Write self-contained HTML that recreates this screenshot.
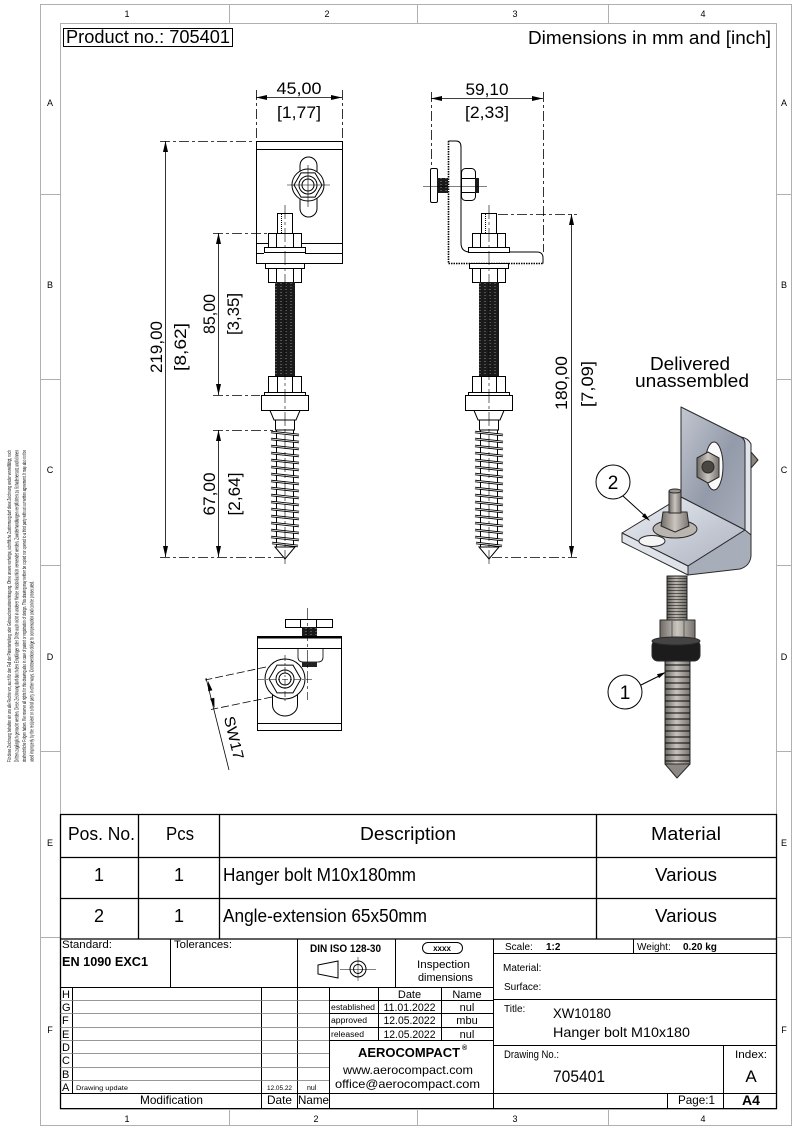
<!DOCTYPE html>
<html><head><meta charset="utf-8"><style>
html,body{margin:0;padding:0;background:#fff}
svg{display:block}
text{font-family:"Liberation Sans",sans-serif;fill:#000}
</style></head><body>
<svg width="800" height="1132" viewBox="0 0 800 1132" xmlns="http://www.w3.org/2000/svg">
<defs>
<pattern id="rod" patternUnits="userSpaceOnUse" width="5" height="3"><rect width="5" height="3" fill="#1a1a1a"/><path d="M0 1.5h2" stroke="#8a8a8a" stroke-width="0.5"/></pattern>
<pattern id="th3" patternUnits="userSpaceOnUse" width="40" height="3"><rect width="40" height="3" fill="#b8b3ad"/><rect y="2" width="40" height="1" fill="#5d5853"/></pattern>
<pattern id="th6" patternUnits="userSpaceOnUse" width="40" height="6"><rect width="40" height="6" fill="#c7c2bc"/><rect y="4" width="40" height="2" fill="#67625c"/></pattern>
<linearGradient id="gm" x1="0" x2="1" y1="0" y2="0"><stop offset="0" stop-color="#6e6964"/><stop offset="0.5" stop-color="#cbc6c0"/><stop offset="1" stop-color="#77726d"/></linearGradient>
<linearGradient id="sh" x1="0" x2="1" y1="0" y2="0"><stop offset="0" stop-color="#000" stop-opacity="0.45"/><stop offset="0.45" stop-color="#000" stop-opacity="0"/><stop offset="1" stop-color="#000" stop-opacity="0.4"/></linearGradient>
<linearGradient id="gv" x1="0" y1="0" x2="1" y2="1"><stop offset="0" stop-color="#c3c7d1"/><stop offset="0.55" stop-color="#939aa9"/><stop offset="1" stop-color="#a9aebb"/></linearGradient>
<linearGradient id="gh" x1="0" y1="0" x2="1" y2="1"><stop offset="0" stop-color="#eef0f4"/><stop offset="0.6" stop-color="#c3c8d3"/><stop offset="1" stop-color="#aeb3c0"/></linearGradient>
</defs>
<rect width="800" height="1132" fill="#fff"/>

<!-- FRAME -->
<g stroke="#b0b0b0" fill="none" stroke-width="1">
<rect x="40.5" y="4.5" width="751" height="1121"/>
<rect x="60.5" y="23.5" width="716" height="1086"/>
<path d="M229.5 4V23M417.5 4V23M608.5 4V23M229.5 1110V1126M417.5 1110V1126M608.5 1110V1126M40 194.5H60M40 379.5H60M40 565.5H60M40 751.5H60M40 937.5H60M777 194.5H791M777 379.5H791M777 565.5H791M777 751.5H791M777 937.5H791"/>
</g>
<g font-size="9" text-anchor="middle" style="fill:#333">
<text x="127" y="17">1</text><text x="327" y="17">2</text><text x="515" y="17">3</text><text x="703" y="17">4</text>
<text x="127" y="1122">1</text><text x="316" y="1122">2</text><text x="515" y="1122">3</text><text x="703" y="1122">4</text>
<text x="50" y="106">A</text><text x="50" y="288">B</text><text x="50" y="473">C</text><text x="50" y="660">D</text><text x="50" y="846">E</text><text x="50" y="1033">F</text>
<text x="784" y="106">A</text><text x="784" y="288">B</text><text x="784" y="473">C</text><text x="784" y="660">D</text><text x="784" y="846">E</text><text x="784" y="1033">F</text>
</g>

<!-- left margin legal text -->
<g font-size="5.5" style="fill:#333" lengthAdjust="spacingAndGlyphs">
<text transform="translate(11,762) rotate(-90)" textLength="312" lengthAdjust="spacingAndGlyphs">Für diese Zeichnung behalten wir uns alle Rechte vor, auch für den Fall der Patenterteilung oder Gebrauchsmustereintragung. Ohne unsere vorherige, schriftliche Zustimmung darf diese Zeichnung weder vervielfältigt, noch</text>
<text transform="translate(18.5,762) rotate(-90)" textLength="312" lengthAdjust="spacingAndGlyphs">Dritten zugänglich gemacht werden. Diese Zeichnung darf durch den Empfänger oder Dritte auch nicht in anderer Weise missbräuchlich verwendet werden. Zuwiderhandlungen verpflichten zu Schadenersatz und können</text>
<text transform="translate(26,762) rotate(-90)" textLength="312" lengthAdjust="spacingAndGlyphs">strafrechtliche Folgen haben. We reserve all rights for this drawing also in case of patent or registration of design. This drawing may neither be copied nor opened to a third party without our written agreement. It may also not be</text>
<text transform="translate(33.5,762) rotate(-90)" textLength="181" lengthAdjust="spacingAndGlyphs">used improperly by the recipient or a third party in other ways. Contraventions oblige to compensation and can be prosecuted.</text>
</g>

<!-- HEADER -->
<rect x="63.5" y="28.5" width="169" height="18" fill="none" stroke="#000"/>
<text x="66" y="43" font-size="18" textLength="164" lengthAdjust="spacingAndGlyphs">Product no.: 705401</text>
<text x="528" y="44" font-size="18" textLength="243" lengthAdjust="spacingAndGlyphs">Dimensions in mm and [inch]</text>

<!-- FRONT VIEW plate -->
<g stroke="#000" stroke-width="1" fill="none">
<rect x="256.5" y="141.5" width="86" height="122" fill="#fff"/>
<path d="M256 149.5H342M256 243.5H342M256 253.5H264M305 253.5H342"/>
<rect x="300" y="157" width="17" height="60" rx="8.5" fill="#fff"/>
<circle cx="308" cy="185" r="16" fill="#fff"/>
<polygon points="322,185 315,197.1 301,197.1 294,185 301,172.9 315,172.9"/>
<circle cx="308" cy="185" r="9"/>
<circle cx="308" cy="185" r="6"/>
<path d="M287 185H330M308 165V207" stroke-width="0.6"/>
</g>

<!-- BOLT assembly (front) -->
<g id="bolt" stroke="#000" stroke-width="1" fill="#fff">
<rect x="277.5" y="213.5" width="15" height="20"/>
<path d="M281.5 214V233" stroke-dasharray="1 1" fill="none"/>
<rect x="268.5" y="233.5" width="33" height="14"/>
<path d="M276.5 234V247M293.5 234V247" fill="none"/>
<rect x="264.5" y="247.5" width="41" height="5"/>
<rect x="265.5" y="263.5" width="39" height="5"/>
<rect x="268.5" y="268.5" width="33" height="14"/>
<path d="M276.5 269V282M293.5 269V282" fill="none"/>
<rect x="275" y="282" width="20" height="94" fill="url(#rod)" stroke="none"/>
<rect x="268.5" y="376.5" width="33" height="16"/>
<path d="M277.5 377V392M292.5 377V392" fill="none"/>
<rect x="264.5" y="392.5" width="41" height="3"/>
<rect x="261.5" y="395.5" width="47" height="15"/>
<polygon points="270,410.5 300,410.5 296,420 274,420"/>
<rect x="275.5" y="420" width="19" height="10"/>
<path d="M276.5 430V547M293.5 430V547" fill="none"/>
<path d="M271 432l28 3M271 439l28 3M271 446l28 3M271 453l28 3M271 460l28 3M271 467l28 3M271 474l28 3M271 481l28 3M271 488l28 3M271 495l28 3M271 502l28 3M271 509l28 3M271 516l28 3M271 523l28 3M271 530l28 3M271 537l28 3M272 543l26 3" stroke-width="2.4" fill="none"/>
<path d="M271 432l28 3M271 439l28 3M271 446l28 3M271 453l28 3M271 460l28 3M271 467l28 3M271 474l28 3M271 481l28 3M271 488l28 3M271 495l28 3M271 502l28 3M271 509l28 3M271 516l28 3M271 523l28 3M271 530l28 3M271 537l28 3M272 543l26 3" stroke="#fff" stroke-width="0.7" fill="none"/>
<polygon points="275,547 295,547 285,559"/>
<path d="M285 205V566" stroke-width="0.6" stroke-dasharray="14 3 3 3" fill="none"/>
</g>

<!-- SIDE VIEW bracket -->
<path d="M448.5 141 H456 Q461 141 461 147 V243 Q461 252 470 252 H537 Q543 252 543 258 V263.5 H448.5 Z" fill="#fff"/>
<path d="M448.5 141 H456 Q461 141 461 147 V243 Q461 252 470 252 H537 Q543 252 543 258 V263.5" fill="none" stroke="#000"/>
<path d="M448.5 141V263.5H543" fill="none" stroke="#000" stroke-width="1.6" stroke-dasharray="1.5 1"/>
<!-- horizontal bolt -->
<g stroke="#000" fill="#fff">
<rect x="430.5" y="168.5" width="7" height="34" rx="1.5"/>
<rect x="437" y="178" width="11" height="15" fill="url(#rod)" stroke="none"/>
<rect x="461.5" y="168.5" width="14" height="32" rx="4"/>
<path d="M462 178.5H475M462 192.5H475" fill="none"/>
<rect x="475" y="178" width="4" height="15" fill="#1b1b1b" stroke="none"/>
<path d="M423 186.5H487" stroke-width="0.6" fill="none"/>
</g>
<use href="#bolt" transform="translate(204,0)"/>

<!-- DIMENSIONS -->
<g stroke="#000" stroke-width="0.8" fill="none">
<path d="M256 97.5H342M431 98.5H543M165.5 141V557M218.5 233V395M218.5 430V557M571.5 214V557"/>
<path d="M256.5 90V140M342.5 90V140M160 141.5H255M213 233.5H276M213 395.5H260M213 430.5H273M160 557.5H283M498 214.5H577M492 557.5H577M431.5 92V168M543.5 92V252" stroke-dasharray="10 3 3 3"/>
</g>
<g fill="#000">
<polygon points="256,97.5 267,95 267,100"/><polygon points="342,97.5 331,95 331,100"/>
<polygon points="431,98.5 442,96 442,101"/><polygon points="543,98.5 532,96 532,101"/>
<polygon points="165.5,141 163,152 168,152"/><polygon points="165.5,557 163,546 168,546"/>
<polygon points="218.5,233 216,244 221,244"/><polygon points="218.5,395 216,384 221,384"/>
<polygon points="218.5,430 216,441 221,441"/><polygon points="218.5,557 216,546 221,546"/>
<polygon points="571.5,214 569,225 574,225"/><polygon points="571.5,557 569,546 574,546"/>
</g>
<g font-size="17" text-anchor="middle">
<text x="299" y="94" textLength="45" lengthAdjust="spacingAndGlyphs">45,00</text>
<text x="299" y="118" textLength="44" lengthAdjust="spacingAndGlyphs">[1,77]</text>
<text x="487" y="95" textLength="43" lengthAdjust="spacingAndGlyphs">59,10</text>
<text x="487" y="118" textLength="44" lengthAdjust="spacingAndGlyphs">[2,33]</text>
<text transform="translate(162,347) rotate(-90)" textLength="52" lengthAdjust="spacingAndGlyphs">219,00</text>
<text transform="translate(186,347) rotate(-90)" textLength="48" lengthAdjust="spacingAndGlyphs">[8,62]</text>
<text transform="translate(215,314) rotate(-90)" textLength="40" lengthAdjust="spacingAndGlyphs">85,00</text>
<text transform="translate(239,314) rotate(-90)" textLength="42" lengthAdjust="spacingAndGlyphs">[3,35]</text>
<text transform="translate(215,494) rotate(-90)" textLength="43" lengthAdjust="spacingAndGlyphs">67,00</text>
<text transform="translate(240,494) rotate(-90)" textLength="43" lengthAdjust="spacingAndGlyphs">[2,64]</text>
<text transform="translate(567,383) rotate(-90)" textLength="54" lengthAdjust="spacingAndGlyphs">180,00</text>
<text transform="translate(593,384) rotate(-90)" textLength="46" lengthAdjust="spacingAndGlyphs">[7,09]</text>
</g>

<!-- BOTTOM VIEW -->
<g stroke="#000" stroke-width="1" fill="#fff">
<rect x="285.5" y="619.5" width="47" height="8"/>
<path d="M300.5 620V627M316.5 620V627" fill="none"/>
<rect x="302" y="627" width="15" height="10" fill="url(#rod)" stroke="none"/>
<rect x="257.5" y="636.5" width="84" height="94"/>
<rect x="257" y="636" width="85" height="2.5" fill="#000" stroke="none"/>
<path d="M257 648.5H342M257 723.5H342" fill="none"/>
<path d="M298 649 V657 Q298 662 303 662 H318 Q323 662 323 657 V649" stroke-width="0.8"/>
<rect x="302" y="662" width="15" height="5" fill="#222" stroke="none"/>
<path d="M272.5 695 V705 A12.5 11 0 0 0 297.5 705 V695"/>
<circle cx="285" cy="679" r="20"/>
<polygon points="301,679 293,692.9 277,692.9 269,679 277,665.1 293,665.1"/>
<circle cx="285" cy="679" r="9"/>
<circle cx="285" cy="679" r="6"/>
<path d="M258 679.5H312M285 655V702" stroke-width="0.6" stroke-dasharray="6 2 2 2" fill="none"/>
<path d="M307.5 608V700" stroke-width="0.6" stroke-dasharray="12 3 3 3" fill="none"/>
</g>
<g stroke="#000" stroke-width="0.8" fill="none">
<path d="M266 667L205 680M272 697L211 709.5" stroke-dasharray="8 3"/>
<path d="M206 678L229 770"/>
</g>
<polygon points="208,681 212.4,690.2 208.2,691.2" fill="#000"/>
<polygon points="214.5,708 214.3,697.8 210.1,698.8" fill="#000"/>
<text transform="translate(229,739) rotate(76.6)" font-size="15" text-anchor="middle" textLength="44" lengthAdjust="spacingAndGlyphs">SW17</text>

<!-- 3D RENDER -->
<text x="650" y="370" font-size="18" textLength="80" lengthAdjust="spacingAndGlyphs">Delivered</text>
<text x="635" y="387" font-size="18" textLength="114" lengthAdjust="spacingAndGlyphs">unassembled</text>
<g stroke="#2a2a2a" stroke-width="1" stroke-linejoin="round">
<path d="M681 407 L741 437 Q745 439 745 444 L745 530 L681 497 Z" fill="url(#gv)"/>
<path d="M741 437 Q748 438 751 444 L751 556 L745 553 L745 444 Q745 439 741 437 Z" fill="#e1e4ea"/>
<polygon points="751,452 758,460 751,468" fill="#8a8580"/>
<ellipse cx="714" cy="466" rx="9" ry="24" fill="#fafafa"/>
<polygon points="697,458 708,452 719,458 719,477 708,483 697,477" fill="url(#gm)"/>
<circle cx="708" cy="467" r="6" fill="#4a4642"/>
<path d="M681 497 L745 530 L688 566 L622 533 Z" fill="url(#gh)"/>
<path d="M622 533 L688 566 L688 575 L622 542 Z" fill="#dfe2e8"/>
<path d="M688 566 L745 530 L751 535 L751 556 Q750 566 740 569 L688 575 Z" fill="#a8adba"/>
<ellipse cx="652" cy="541" rx="13" ry="5.5" fill="#f5f5f5"/>
<ellipse cx="675" cy="529" rx="22" ry="9" fill="#bab5af"/>
<polygon points="663,512 687,512 689,526 675,532 661,526" fill="url(#gm)"/>
<rect x="669" y="491" width="12" height="22" fill="url(#gm)"/>
<ellipse cx="675" cy="491" rx="6" ry="2" fill="#9a958f"/>
<rect x="667" y="576" width="20" height="48" fill="url(#th3)"/>
<rect x="667" y="576" width="20" height="48" fill="url(#sh)" stroke="none"/>
<rect x="660" y="620" width="35" height="22" fill="url(#gm)"/>
<path d="M672 621V641M684 621V641" fill="none" stroke-width="0.6"/>
<rect x="652" y="640" width="48" height="21" rx="6" fill="#1c1c1c"/>
<ellipse cx="676" cy="641" rx="24" ry="4" fill="#444"/>
<rect x="665" y="661" width="25" height="103" fill="url(#th6)"/>
<rect x="665" y="661" width="25" height="103" fill="url(#sh)" stroke="none"/>
<polygon points="665,764 690,764 677,778" fill="#8d8883"/>
</g>
<g stroke="#000" stroke-width="1" fill="#fff">
<circle cx="613" cy="482" r="17"/>
<circle cx="625" cy="692" r="17"/>
<path d="M623 496L645 516M641 685L659 676" fill="none"/>
</g>
<polygon points="650,521 641.9,516.5 644.9,513.3" fill="#000"/>
<polygon points="666,672 659,678.1 657,674.2" fill="#000"/>
<text x="613" y="489" font-size="19" text-anchor="middle">2</text>
<text x="625" y="699" font-size="19" text-anchor="middle">1</text>

<!-- PARTS TABLE -->
<g stroke="#000" stroke-width="1.3" fill="none">
<path d="M60 814.5H777M60 857.5H777M60 898.5H777M60 939H777M60.5 814V1109M138.5 814V939M219.5 814V939M596.5 814V939M776.5 814V1109"/>
</g>
<g font-size="18">
<text x="68" y="840" textLength="67" lengthAdjust="spacingAndGlyphs">Pos. No.</text>
<text x="166" y="840" textLength="28" lengthAdjust="spacingAndGlyphs">Pcs</text>
<text x="360" y="840" textLength="96" lengthAdjust="spacingAndGlyphs">Description</text>
<text x="651" y="840" textLength="70" lengthAdjust="spacingAndGlyphs">Material</text>
<text x="99" y="881" text-anchor="middle">1</text>
<text x="179" y="881" text-anchor="middle">1</text>
<text x="223" y="881" textLength="193" lengthAdjust="spacingAndGlyphs">Hanger bolt M10x180mm</text>
<text x="655" y="881" textLength="62" lengthAdjust="spacingAndGlyphs">Various</text>
<text x="99" y="922" text-anchor="middle">2</text>
<text x="179" y="922" text-anchor="middle">1</text>
<text x="223" y="922" textLength="204" lengthAdjust="spacingAndGlyphs">Angle-extension 65x50mm</text>
<text x="655" y="922" textLength="62" lengthAdjust="spacingAndGlyphs">Various</text>
</g>

<!-- TITLE BLOCK -->
<g stroke="#000" stroke-width="1" fill="none">
<path d="M60 987.5H493M170.5 939V987M297.5 939V1108M395.5 939V987M493.5 939V1108M72.5 987V1093M261.5 987V1108M329.5 987V1108M378.5 987V1040M441.5 987V1040M329 1000.5H493M329 1013.5H493M329 1027.5H493M329 1040.5H493M60 1093.5H777M60 1108.5H777M493 953.5H777M633.5 939V953M493 999.5H777M493 1045.5H777M723.5 1045V1108M667.5 1093V1108"/>
<path d="M72 1000.5H329M72 1013.5H329M72 1027.5H329M72 1040.5H329M72 1053.5H329M72 1067.5H329M72 1080.5H329M60 1000.5H72M60 1013.5H72M60 1027.5H72M60 1040.5H72M60 1053.5H72M60 1067.5H72M60 1080.5H72" stroke="#777" stroke-width="0.8"/>
<rect x="422.5" y="942.5" width="40" height="11" rx="5.5"/>
<path d="M318 965L338 961V978L318 974Z"/>
<circle cx="358" cy="969" r="8"/>
<circle cx="358" cy="969" r="4.5"/>
<path d="M340 969.5H376M358 957V981" stroke-width="0.5"/>
</g>
<g font-size="11">
<text x="62" y="948" textLength="50" lengthAdjust="spacingAndGlyphs">Standard:</text>
<text x="62" y="966" font-size="13" font-weight="bold" textLength="86" lengthAdjust="spacingAndGlyphs">EN 1090 EXC1</text>
<text x="174" y="948" textLength="58" lengthAdjust="spacingAndGlyphs">Tolerances:</text>
<text x="310" y="952" font-weight="bold" textLength="71" lengthAdjust="spacingAndGlyphs">DIN ISO 128-30</text>
<text x="442" y="951" font-size="8" font-weight="bold" text-anchor="middle">xxxx</text>
<text x="417" y="968" textLength="53" lengthAdjust="spacingAndGlyphs">Inspection</text>
<text x="418" y="981" textLength="55" lengthAdjust="spacingAndGlyphs">dimensions</text>
<text x="62" y="998">H</text><text x="62" y="1011">G</text><text x="62" y="1024">F</text><text x="62" y="1038">E</text>
<text x="62" y="1051">D</text><text x="62" y="1064">C</text><text x="62" y="1078">B</text><text x="62" y="1091">A</text>
<text x="76" y="1090" font-size="6" textLength="52" lengthAdjust="spacingAndGlyphs">Drawing update</text>
<text x="267" y="1090" font-size="6" textLength="25" lengthAdjust="spacingAndGlyphs">12.05.22</text>
<text x="307" y="1090" font-size="7">nul</text>
<text x="409.5" y="998" text-anchor="middle">Date</text>
<text x="467" y="998" text-anchor="middle">Name</text>
<text x="331" y="1010" font-size="8" textLength="44" lengthAdjust="spacingAndGlyphs">established</text>
<text x="331" y="1023" font-size="8" textLength="36" lengthAdjust="spacingAndGlyphs">approved</text>
<text x="331" y="1037" font-size="8" textLength="33" lengthAdjust="spacingAndGlyphs">released</text>
<text x="409.5" y="1011" text-anchor="middle" textLength="52" lengthAdjust="spacingAndGlyphs">11.01.2022</text>
<text x="409.5" y="1024" text-anchor="middle" textLength="52" lengthAdjust="spacingAndGlyphs">12.05.2022</text>
<text x="409.5" y="1038" text-anchor="middle" textLength="52" lengthAdjust="spacingAndGlyphs">12.05.2022</text>
<text x="467" y="1011" text-anchor="middle">nul</text>
<text x="467" y="1024" text-anchor="middle">mbu</text>
<text x="467" y="1038" text-anchor="middle">nul</text>
<text x="358" y="1057" font-size="13" font-weight="bold" textLength="102" lengthAdjust="spacingAndGlyphs">AEROCOMPACT</text>
<text x="462" y="1050" font-size="7" font-weight="bold">®</text>
<text x="343" y="1074" font-size="12" textLength="130" lengthAdjust="spacingAndGlyphs">www.aerocompact.com</text>
<text x="335" y="1088" font-size="12" textLength="145" lengthAdjust="spacingAndGlyphs">office@aerocompact.com</text>
<text x="140" y="1104" font-size="12" textLength="63" lengthAdjust="spacingAndGlyphs">Modification</text>
<text x="267" y="1104" font-size="12" textLength="25" lengthAdjust="spacingAndGlyphs">Date</text>
<text x="298" y="1104" font-size="12" textLength="31" lengthAdjust="spacingAndGlyphs">Name</text>
<text x="505" y="950" font-size="10">Scale:</text>
<text x="546" y="950" font-size="10" font-weight="bold">1:2</text>
<text x="637" y="950" font-size="10">Weight:</text>
<text x="683" y="950" font-size="10" font-weight="bold">0.20 kg</text>
<text x="503" y="971" font-size="10">Material:</text>
<text x="504" y="990" font-size="10">Surface:</text>
<text x="504" y="1012" font-size="10">Title:</text>
<text x="553" y="1018" font-size="14" textLength="58" lengthAdjust="spacingAndGlyphs">XW10180</text>
<text x="553" y="1037" font-size="14" textLength="137" lengthAdjust="spacingAndGlyphs">Hanger bolt M10x180</text>
<text x="504" y="1058" textLength="55" lengthAdjust="spacingAndGlyphs">Drawing No.:</text>
<text x="553" y="1082" font-size="17" textLength="52" lengthAdjust="spacingAndGlyphs">705401</text>
<text x="735" y="1058" textLength="32" lengthAdjust="spacingAndGlyphs">Index:</text>
<text x="751" y="1082" font-size="17" text-anchor="middle">A</text>
<text x="678" y="1104" font-size="12" textLength="37" lengthAdjust="spacingAndGlyphs">Page:1</text>
<text x="751" y="1105" font-size="14" font-weight="bold" text-anchor="middle">A4</text>
</g>
</svg>
</body></html>
